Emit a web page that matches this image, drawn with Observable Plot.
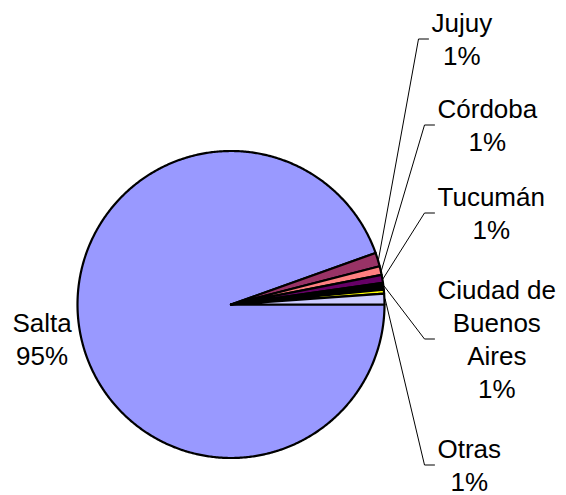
<!DOCTYPE html>
<html><head><meta charset="utf-8">
<script src="https://cdn.jsdelivr.net/npm/d3@7"></script>
<script src="https://cdn.jsdelivr.net/npm/@observablehq/plot@0.6"></script>
<style>html,body{margin:0;padding:0;background:#fff}</style>
</head><body><div id="chart"></div>
<script>
// ---- data ----
const provinces = ["Salta", "Jujuy", "Córdoba", "Tucumán", "Ciudad de Buenos Aires", "", "Otras"];
const shares = [94.55, 1.44, 0.92, 0.83, 0.72, 0.42, 1.12];
const labelLines = [["Salta"], ["Jujuy"], ["Córdoba"], ["Tucumán"], ["Ciudad de", "Buenos", "Aires"], null, ["Otras"]];
const sliceColors = ["#9999FF", "#993366", "#FF8080", "#660066", "#000000", "#FFFF00", "#CCCCFF"];

// ---- layout ----
const W = 566, H = 495, CX = 230.5, CY = 304, R = 153.5;
const FONT_SIZE = 26, LINE = 33;
const FONT = "Arial, 'Liberation Sans', sans-serif";
const placement = {
  "Salta": {left: 12, base: 331, leader: false},
  "Jujuy": {left: 431, base: 31, leader: true},
  "Córdoba": {left: 437, base: 117, leader: true},
  "Tucumán": {left: 437, base: 205, leader: true},
  "Ciudad de Buenos Aires": {left: 437, base: 298, leader: true},
  "Otras": {left: 437, base: 457, leader: true}
};
const ux = px => (px - CX) / R;
const uy = py => (CY - py) / R;

const ctx = document.createElement("canvas").getContext("2d");
ctx.font = `${FONT_SIZE}px ${FONT}`;

const data = provinces.map((name, i) => ({name, value: shares[i], color: sliceColors[i], lines: labelLines[i]}));
const arcs = d3.pie().sort(null).value(d => d.value)
  .startAngle(Math.PI / 2).endAngle(Math.PI / 2 + 2 * Math.PI)(data);

const poly = [];
arcs.forEach((a, i) => {
  const n = Math.max(2, Math.ceil((a.endAngle - a.startAngle) / (Math.PI / 360)));
  poly.push({k: i, x: 0, y: 0, color: a.data.color});
  for (let j = 0; j <= n; ++j) {
    const t = a.startAngle + (a.endAngle - a.startAngle) * j / n;
    poly.push({k: i, x: Math.sin(t), y: Math.cos(t), color: a.data.color});
  }
  poly.push({k: i, x: 0, y: 0, color: a.data.color});
});

const labels = [], leaders = [];
arcs.forEach((a, i) => {
  const d = a.data;
  if (!d.lines) return;
  const p = placement[d.name];
  const lines = d.lines.concat([Math.round(d.value) + "%"]);
  const wMax = d3.max(lines, s => ctx.measureText(s).width);
  const n = lines.length;
  labels.push({x: ux(p.left + wMax / 2), y: uy(p.base + (n - 1) * LINE), text: lines.join("\n")});
  if (p.leader) {
    const mid = (a.startAngle + a.endAngle) / 2;
    const by = ((p.base - 18) + (p.base + (n - 1) * LINE)) / 2;
    const bx1 = p.left - 3, bx0 = bx1 - 10;
    leaders.push({k: i, x: Math.sin(mid) * 1.005, y: Math.cos(mid) * 1.005});
    leaders.push({k: i, x: ux(bx0), y: uy(by)});
    leaders.push({k: i, x: ux(bx1), y: uy(by)});
  }
});

const chart = Plot.plot({
  width: W, height: H,
  marginLeft: CX - R, marginRight: W - (CX + R),
  marginTop: CY - R, marginBottom: H - (CY + R),
  x: {domain: [-1, 1], axis: null},
  y: {domain: [-1, 1], axis: null},
  color: {type: "identity"},
  style: {fontFamily: FONT, background: "#fff"},
  marks: [
    Plot.line(poly, {x: "x", y: "y", z: "k", fill: "color", stroke: "#000", strokeWidth: 2.2, strokeLinejoin: "round"}),
    Plot.line(leaders, {x: "x", y: "y", z: "k", stroke: "#000", strokeWidth: 1}),
    Plot.text(labels, {x: "x", y: "y", text: "text", textAnchor: "middle", lineAnchor: "bottom",
      lineHeight: LINE / FONT_SIZE, fontSize: FONT_SIZE, fill: "#000"})
  ]
});
document.getElementById("chart").appendChild(chart);
</script>
</body></html>
